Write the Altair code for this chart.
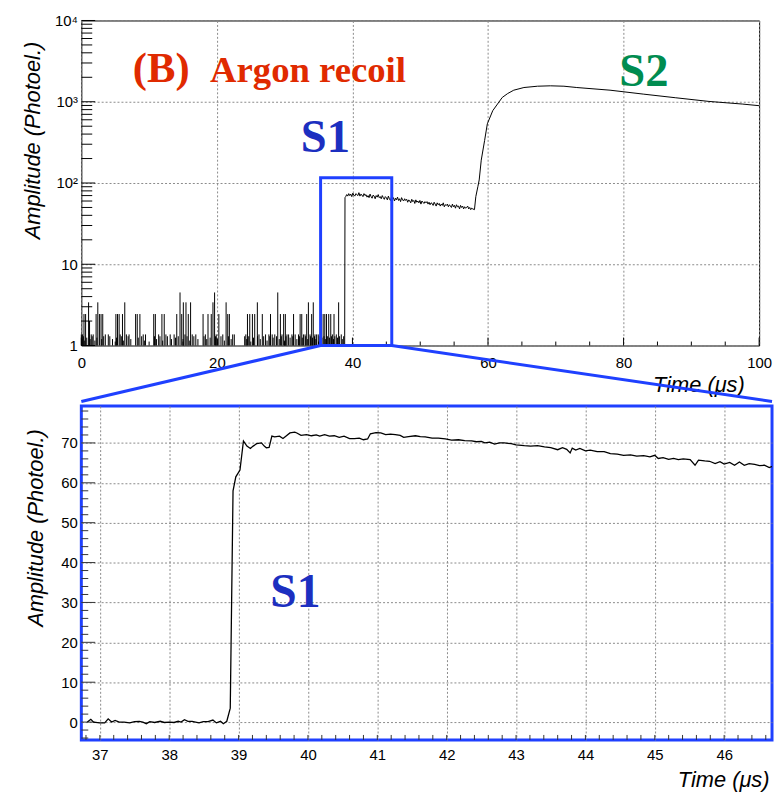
import altair as alt
import pandas as pd

# ---------------- top panel data (log scale) ----------------
# noise spikes before S1: (time us, amplitude photoel.)
spikes = [(0.0,1.37),(0.19,1.37),(0.39,2.44),(0.63,2.44),(1.07,3.4),(1.21,2.0),(1.46,1.37),(1.75,1.37),
          (2.18,2.44),(2.43,3.4),(2.67,2.44),(2.91,2.44),(3.16,2.44),(3.54,1.37),(3.98,1.37),(5.10,2.44),
          (5.34,2.44),(5.58,2.44),(5.73,1.37),(6.07,2.44),(6.41,3.4),(6.65,1.37),(7.04,1.37),(8.01,2.44),
          (8.25,2.44),(8.64,2.44),(9.13,1.37),(9.47,1.37),(10.68,2.44),(10.92,2.44),(11.41,1.37),(11.89,2.44),
          (12.23,2.44),(12.48,1.37),(13.11,1.37),(13.69,1.37),(14.08,2.44),(14.56,4.5),(14.81,2.44),(15.05,3.4),
          (15.29,1.37),(15.44,3.4),(15.78,2.44),(16.12,3.4),(16.36,1.37),(16.89,1.37),(17.96,2.44),(18.30,1.37),
          (18.69,2.44),(19.17,2.44),(19.42,3.4),(19.66,4.5),(19.90,1.37),(20.29,2.44),(20.87,1.37),(21.36,3.4),
          (21.60,2.44),(21.84,2.44),(22.33,1.37),(22.57,1.37),(24.27,1.37),(24.51,2.44),(24.85,2.44),(25.24,2.44),
          (25.58,2.44),(25.97,3.4),(26.21,1.37),(26.70,2.44),(27.18,1.37),(27.67,1.37),(27.91,2.44),(28.16,1.37),
          (28.54,1.37),(28.98,4.5),(29.37,2.44),(29.61,1.37),(29.85,2.44),(30.10,2.44),(30.34,1.37),(30.58,1.37),
          (31.07,1.37),(31.31,2.44),(31.55,1.37),(32.04,1.37),(32.28,2.44),(32.52,2.44),(32.77,1.37),(33.01,1.37),
          (33.25,2.44),(33.50,3.4),(33.74,1.37),(33.98,2.44),(34.22,3.4),(34.47,1.37),(34.71,1.37),(34.95,1.37),
          (35.68,2.44),(35.92,2.44),(36.17,2.44),(36.50,2.44),(36.80,2.44),(37.04,1.37),(37.28,2.44),(37.62,1.37),
          (37.96,3.4),(38.35,1.37)]
small_spikes = [(0.1,1.2),(0.3,1.3),(0.5,1.15),(0.8,1.25),(1.3,1.2),(1.6,1.3),(2.0,1.15),(2.3,1.25),(3.0,1.2),
                (3.3,1.3),(4.2,1.3),(4.6,1.2),(5.2,1.25),(5.9,1.3),(6.2,1.15),(6.9,1.3),(7.3,1.2),(8.4,1.25),
                (8.9,1.3),(9.3,1.15),(10.8,1.3),(11.1,1.2),(11.6,1.3),(12.0,1.15),(12.7,1.3),(13.3,1.2),(13.9,1.25),
                (14.3,1.3),(15.0,1.2),(15.6,1.3),(16.0,1.15),(16.6,1.3),(17.2,1.2),(18.1,1.3),(18.5,1.2),(19.0,1.25),
                (19.8,1.3),(20.1,1.2),(20.6,1.3),(21.1,1.15),(21.7,1.3),(22.1,1.2),(24.1,1.3),(24.4,1.2),(24.7,1.3),
                (25.4,1.25),(26.0,1.3),(26.4,1.2),(26.9,1.3),(27.4,1.15),(27.8,1.3),(28.3,1.25),(28.8,1.3),(29.2,1.2),
                (29.5,1.3),(30.0,1.15),(30.2,1.3),(30.8,1.25),(31.2,1.3),(31.8,1.2),(32.2,1.3),(32.6,1.25),(33.1,1.3),
                (33.4,1.2),(33.8,1.3),(34.1,1.25),(34.4,1.3),(34.6,1.2),(35.1,1.3),(35.5,1.25),(35.8,1.3),(36.0,1.2),
                (36.3,1.3),(36.6,1.25),(36.9,1.3),(37.2,1.2),(37.4,1.3),(37.8,1.25),(38.1,1.3),(38.5,1.2),(38.7,1.3)]

# S1 rise and plateau (sampled every 0.15 us from 39.0 us)
rise = [(38.85, 1.0), (38.9, 66.0)]
plateau_t0 = 39.0
plateau_dt = 0.15
plateau_v = [68, 72, 69, 74, 70, 73, 68, 75, 71, 69, 74, 72, 70, 76, 69, 73, 71, 68, 74, 70,
             72, 67, 70, 66, 73, 68, 65, 71, 69, 64, 70, 67, 72, 66, 68, 64, 70, 66, 63, 68,
             66, 62, 69, 64, 61, 67, 63, 66, 60, 65, 62, 67, 61, 64, 59, 66, 62, 60, 64, 61,
             63, 58, 62, 60, 57, 63, 59, 61, 56, 62, 58, 60, 57, 61, 55, 60, 58, 56, 59, 57,
             59, 55, 58, 54, 57, 56, 53, 58, 55, 52, 57, 54, 56, 52, 55, 53, 57, 51, 54, 53,
             55, 51, 54, 52, 50, 55, 51, 53, 49, 54, 51, 52, 48, 53, 50, 52, 48, 51, 49, 50,
             52, 48, 50, 47, 49, 48]
# S2
s2 = [(58.0, 47), (58.2, 68), (58.5, 90), (58.7, 109), (59.0, 191), (59.5, 334), (59.9, 535),
      (60.7, 777), (61.4, 937), (62.1, 1129), (62.9, 1262), (63.8, 1388), (65.3, 1496), (67.3, 1553),
      (69.2, 1570), (71.2, 1553), (73.1, 1496), (78.0, 1388), (82.9, 1242), (87.7, 1119), (92.6, 1009),
      (97.5, 937), (100.0, 894)]

# zoom box in the top panel
box_t = [35.3, 45.8]
box_v = [1.0, 116.0]

# ---------------- bottom panel data (zoom on S1) ----------------
zoom_pts = [(36.82, 0.0), (36.87, 0.7), (36.91, 0.0), (37.0, -0.2), (37.07, -0.2), (37.12, 0.8), (37.17, 0.0),
            (37.22, 0.4), (37.28, 0.0), (37.35, 0.0), (37.43, -0.2), (37.5, 0.1), (37.57, 0.2), (37.62, 0.0),
            (37.67, -0.4), (37.72, 0.1), (37.79, -0.1), (37.87, 0.2), (37.93, -0.1), (38.0, 0.0), (38.07, -0.1),
            (38.13, 0.2), (38.17, 0.0), (38.22, 0.6), (38.27, 0.2), (38.33, 0.2), (38.43, -0.2), (38.49, 0.1),
            (38.56, 0.1), (38.63, 0.5), (38.68, -0.2), (38.74, 0.2), (38.78, -0.4), (38.83, 0.2), (38.88, 3.5),
            (38.92, 58.0), (38.96, 61.5), (39.02, 63.2), (39.07, 70.5), (39.12, 69.2), (39.17, 68.6), (39.21, 69.2),
            (39.26, 69.8), (39.33, 70.0), (39.37, 69.2), (39.40, 68.8), (39.44, 68.9), (39.48, 71.7), (39.52, 71.5),
            (39.59, 71.7), (39.64, 71.1), (39.69, 71.8), (39.74, 72.5), (39.81, 72.7), (39.84, 72.5), (39.9, 71.9),
            (39.98, 72.1), (40.05, 71.8), (40.12, 72.0), (40.17, 71.7), (40.24, 72.1), (40.31, 71.7), (40.38, 71.8),
            (40.45, 71.4), (40.52, 71.7), (40.6, 71.1), (40.67, 71.1), (40.74, 71.2), (40.8, 70.8), (40.86, 71.0),
            (40.9, 72.3), (40.98, 72.6), (41.05, 72.5), (41.12, 72.1), (41.19, 72.2), (41.26, 72.1), (41.33, 71.9),
            (41.38, 71.4), (41.45, 71.6), (41.55, 71.8), (41.62, 71.6), (41.69, 71.5), (41.79, 71.2), (41.88, 71.2),
            (41.98, 71.0), (42.07, 70.7), (42.17, 70.8), (42.26, 70.6), (42.36, 70.5), (42.43, 70.3), (42.5, 70.4),
            (42.55, 70.0), (42.62, 70.2), (42.69, 69.7), (42.76, 70.0), (42.83, 70.0), (42.93, 69.8), (43.0, 69.5),
            (43.12, 69.3), (43.21, 69.2), (43.31, 69.3), (43.41, 69.0), (43.5, 68.8), (43.6, 68.3), (43.67, 68.8),
            (43.73, 68.4), (43.78, 67.5), (43.81, 68.7), (43.86, 68.2), (43.92, 68.6), (44.0, 68.0), (44.07, 68.2),
            (44.17, 67.8), (44.27, 67.8), (44.36, 67.3), (44.46, 67.2), (44.55, 66.9), (44.65, 67.0), (44.74, 66.7),
            (44.84, 66.8), (44.93, 66.5), (45.0, 66.9), (45.05, 66.1), (45.12, 66.3), (45.2, 65.9), (45.27, 66.1),
            (45.34, 65.8), (45.41, 66.0), (45.51, 65.8), (45.58, 64.4), (45.63, 65.7), (45.72, 65.5), (45.79, 65.4),
            (45.87, 64.8), (45.94, 65.3), (46.0, 64.7), (46.08, 65.1), (46.15, 64.4), (46.22, 65.2), (46.29, 64.4),
            (46.36, 64.8), (46.44, 64.6), (46.51, 64.3), (46.58, 64.4), (46.65, 63.8), (46.72, 64.3), (46.78, 64.0)]

# ---------------- axis ticks / labels ----------------
top_x_major = [0, 20, 40, 60, 80, 100]
top_x_minor = [5, 10, 15, 25, 30, 35, 45, 50, 55, 65, 70, 75, 85, 90, 95]
top_y_major = [1, 10, 100, 1000, 10000]
top_y_minor = [m * 10 ** k for k in range(4) for m in range(2, 10)]
top_y_labels = {1: "1", 10: "10", 100: "10²", 1000: "10³", 10000: "10⁴"}
bot_x_major = list(range(37, 47))
bot_x_minor = [round(36.8 + 0.2 * i, 1) for i in range(50)]
bot_y_major = [0, 10, 20, 30, 40, 50, 60, 70]
bot_y_minor = [v for v in range(-4, 79, 2) if v % 10 != 0]

# ---------------- layout constants ----------------
W1, H1 = 684, 328
W2, H2 = 697, 337
GAP = 58
BLUE = "#1f40ff"
FONT = "Liberation Sans"
SERIF = "Liberation Serif"

plateau = [(round(plateau_t0 + plateau_dt * i, 3), v) for i, v in enumerate(plateau_v)]
top_line_df = pd.DataFrame(rise + plateau + s2, columns=["t", "v"])
spike_df = pd.DataFrame(spikes + small_spikes, columns=["t", "v"])
zoom_df = pd.DataFrame(zoom_pts, columns=["t", "v"])

xs1 = alt.Scale(domain=[0, 100], nice=False, zero=False)
ys1 = alt.Scale(type="log", domain=[1, 10000], nice=False)
label_expr = " : ".join(f"datum.value == {k} ? '{v}'" for k, v in top_y_labels.items()) + " : ''"

xax1 = alt.Axis(values=top_x_major, title="Time (μs)", titleX=669, titleY=46, titleAlign="right",
                titleBaseline="alphabetic", labelPadding=10, labelFlush=False, ticks=False, domain=False,
                grid=True)
yax1 = alt.Axis(values=top_y_major, labelExpr=label_expr, title="Amplitude (Photoel.)", titleY=21,
                titleAlign="right", titlePadding=10, labelPadding=4, labelFlush=False, ticks=False,
                domain=False, grid=True)


def X1(f):
    return alt.X(f, type="quantitative", scale=xs1, axis=xax1)


def Y1(f):
    return alt.Y(f, type="quantitative", scale=ys1, axis=yax1)


spk = alt.Chart(spike_df).mark_rule(color="black", strokeWidth=1).encode(
    x=X1("t"), y=Y1("v"), y2=alt.datum(1))
line1 = alt.Chart(top_line_df).mark_line(color="black", strokeWidth=1).encode(x=X1("t"), y=Y1("v"))

box_df = pd.DataFrame({"t0": [box_t[0]], "t1": [box_t[1]], "v0": [box_v[0]], "v1": [box_v[1]]})
box = alt.Chart(box_df).mark_rect(fill=None, stroke=BLUE, strokeWidth=3).encode(
    x=X1("t0"), x2="t1", y=Y1("v0"), y2="v1")
# connectors end at the top edge of the zoom panel (kept 1.5px short so the stroke does not
# push the concatenated panel down)
conn_l = alt.Chart(pd.DataFrame({"t": [box_t[0]], "v": [box_v[0]]})).mark_rule(
    color=BLUE, strokeWidth=3).encode(x=X1("t"), y=Y1("v"), x2=alt.value(0), y2=alt.value(H1 + GAP - 1.5))
conn_r = alt.Chart(pd.DataFrame({"t": [box_t[1]], "v": [box_v[0]]})).mark_rule(
    color=BLUE, strokeWidth=3).encode(x=X1("t"), y=Y1("v"), x2=alt.value(W2), y2=alt.value(H1 + GAP - 1.5))

ytk_min = alt.Chart(pd.DataFrame({"v": top_y_minor})).mark_rule(color="black").encode(
    y=Y1("v"), x=alt.value(0), x2=alt.value(11))
ytk_maj = alt.Chart(pd.DataFrame({"v": top_y_major})).mark_rule(color="black").encode(
    y=Y1("v"), x=alt.value(0), x2=alt.value(14))
xtk_min = alt.Chart(pd.DataFrame({"t": top_x_minor})).mark_rule(color="black").encode(
    x=X1("t"), y=alt.value(H1), y2=alt.value(H1 - 4))
xtk_maj = alt.Chart(pd.DataFrame({"t": top_x_major})).mark_rule(color="black").encode(
    x=X1("t"), y=alt.value(H1), y2=alt.value(H1 - 8))


def label(df, chartx, charty, color, size, align):
    return alt.Chart(df).mark_text(font=SERIF, fontWeight="bold", fontSize=size, color=color,
                                   align=align, baseline="alphabetic").encode(
        x=chartx("t"), y=charty("v"), text="label:N")


txt_b = label(pd.DataFrame({"t": [7.6], "v": [1754], "label": ["(B)"]}), X1, Y1, "#e02a00", 43, "left")
txt_ar = label(pd.DataFrame({"t": [19.0], "v": [1754], "label": ["Argon recoil"]}), X1, Y1, "#e02a00", 37, "left")
txt_s1 = label(pd.DataFrame({"t": [36.0], "v": [239], "label": ["S1"]}), X1, Y1, "#1c2fc0", 47, "center")
txt_s2 = label(pd.DataFrame({"t": [83.0], "v": [1567], "label": ["S2"]}), X1, Y1, "#008c50", 47, "center")

top = alt.layer(spk, line1, ytk_min, ytk_maj, xtk_min, xtk_maj, box, conn_l, conn_r,
                txt_b, txt_ar, txt_s1, txt_s2).properties(
    width=W1, height=H1, view=alt.ViewBackground(stroke="black", strokeWidth=1))

# ---------------- bottom chart ----------------
xs2 = alt.Scale(domain=[36.733, 46.69], nice=False, zero=False)
ys2 = alt.Scale(domain=[-4.47, 79.27], nice=False, zero=False)
xax2 = alt.Axis(values=bot_x_major, title="Time (μs)", titleX=694, titleY=47, titleAlign="right",
                titleBaseline="alphabetic", labelPadding=8, labelFlush=False, ticks=False, domain=False,
                grid=True)
yax2 = alt.Axis(values=bot_y_major, title="Amplitude (Photoel.)", titleY=23, titleAlign="right",
                titlePadding=14, labelPadding=4, labelFlush=False, ticks=False, domain=False, grid=True)


def X2(f):
    return alt.X(f, type="quantitative", scale=xs2, axis=xax2)


def Y2(f):
    return alt.Y(f, type="quantitative", scale=ys2, axis=yax2)


line2 = alt.Chart(zoom_df).mark_line(color="black", strokeWidth=1.3, clip=True).encode(x=X2("t"), y=Y2("v"))
b_ytk_min = alt.Chart(pd.DataFrame({"v": bot_y_minor})).mark_rule(color="#333").encode(
    y=Y2("v"), x=alt.value(0), x2=alt.value(7))
b_ytk_maj = alt.Chart(pd.DataFrame({"v": bot_y_major})).mark_rule(color="#333").encode(
    y=Y2("v"), x=alt.value(0), x2=alt.value(14))
b_xtk = alt.Chart(pd.DataFrame({"t": bot_x_minor})).mark_rule(color="#333", clip=True).encode(
    x=X2("t"), y=alt.value(H2), y2=alt.value(H2 - 5))
txt_b_s1 = label(pd.DataFrame({"t": [39.82], "v": [28.8], "label": ["S1"]}), X2, Y2, "#1c2fc0", 48, "center")

bottom = alt.layer(b_ytk_min, b_ytk_maj, b_xtk, line2, txt_b_s1).properties(
    width=W2, height=H2, view=alt.ViewBackground(stroke=BLUE, strokeWidth=3))

chart = alt.vconcat(top, bottom, spacing=0).properties(
    padding={"left": 13, "top": 1, "right": 0, "bottom": 0}
).configure_axis(
    labelFont=FONT, labelFontSize=15, labelColor="black",
    titleFont=FONT, titleFontSize=22, titleFontStyle="italic", titleFontWeight="normal", titleColor="black",
    gridColor="#8a8a8a", gridDash=[2, 2], gridWidth=1
)

chart.save("out.html", embed_options={"renderer": "svg", "actions": False})
